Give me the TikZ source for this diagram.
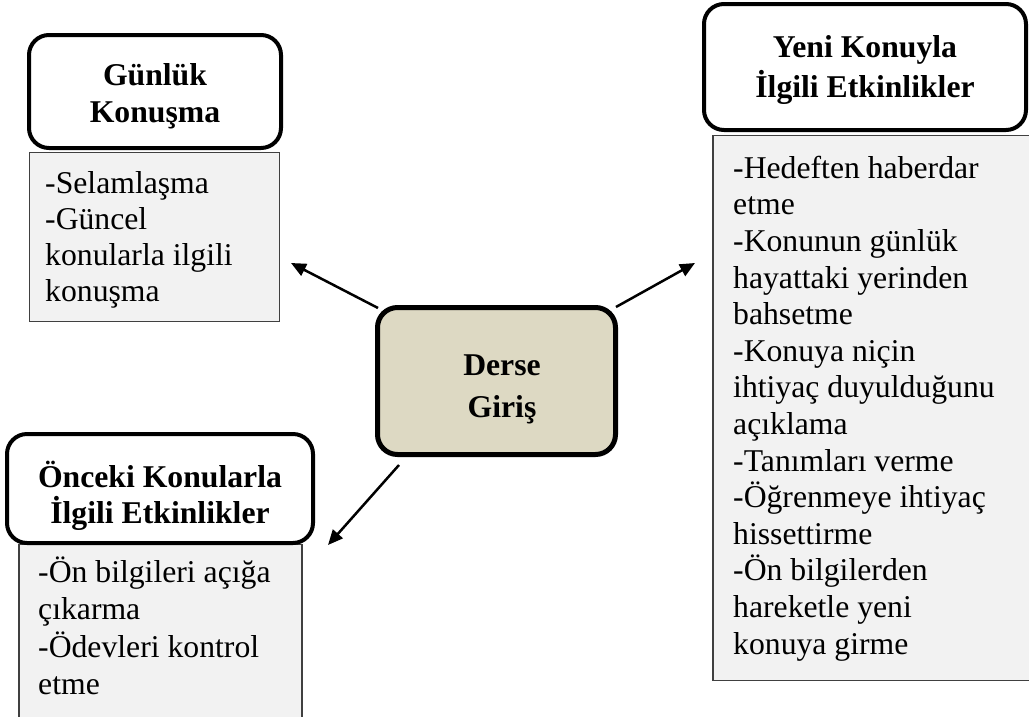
\documentclass[tikz,border=0pt]{standalone}
\usepackage{fontspec}
\setmainfont{Liberation Serif}
\usetikzlibrary{arrows.meta}
\definecolor{listfill}{HTML}{F2F2F2}
\definecolor{listline}{HTML}{404040}
\definecolor{hubfill}{HTML}{DDD9C3}
% font size with a chosen line spacing
\newcommand\fsk[1]{\fontsize{31.7}{#1}\selectfont}
% fixed first-line height so the first baseline sits at a known place
\newcommand\firststrut{\rule{0pt}{30pt}}
\begin{document}
\begin{tikzpicture}[x=1pt,y=-1pt,
  titlebox/.style={draw=black, line width=4pt, rounded corners=20pt, fill=white, inner sep=0pt},
  listbox/.style={draw=listline, line width=1.3pt, fill=listfill, inner sep=0pt},
  hubbox/.style={draw=black, line width=5pt, rounded corners=20pt, fill=hubfill, inner sep=0pt},
  titletext/.style={inner sep=0pt, anchor=north, align=flush center},
  listtext/.style={inner sep=0pt, anchor=north west, align=flush left},
  link/.style={line width=2.5pt, -{Triangle[length=15pt,width=13pt]}}
]
\useasboundingbox (0,0) rectangle (1029,716);
\clip (0,0) rectangle (1029,716);

% content panels (drawn first, the title boxes overlap their top edges)
\node[listbox, minimum width=250pt, minimum height=169pt] (gkbody) at (154.5,237) {};
\node[listbox, minimum width=327pt, minimum height=545pt] (ykbody) at (876.5,408) {};
\node[listbox, minimum width=283pt, minimum height=215pt] (okbody) at (160.5,652) {};

% title boxes
\node[titlebox, minimum width=252pt, minimum height=113pt] (gk) at (155,91.5) {};
\node[titlebox, minimum width=322pt, minimum height=126pt] (yk) at (865,67) {};
\node[titlebox, minimum width=306pt, minimum height=109pt] (ok) at (160,488.5) {};

% central box
\node[hubbox, minimum width=238pt, minimum height=147pt] (dg) at (496.5,381) {};

% titles
\node[titletext, text width=240pt, font=\bfseries\fsk{37}] (gktitle) at (155,55)
  {\firststrut Günlük\\Konuşma};
\node[titletext, text width=310pt, font=\bfseries\fsk{40}] (yktitle) at (865,27)
  {\firststrut Yeni Konuyla\\İlgili Etkinlikler};
\node[titletext, text width=300pt, font=\bfseries\fsk{36}] (oktitle) at (160,457)
  {\firststrut Önceki Konularla\\İlgili Etkinlikler};
\node[titletext, text width=200pt, font=\bfseries\fsk{42}] (dgtitle) at (502,345)
  {\firststrut Derse\\Giriş};

% lists
\node[listtext, text width=230pt, font=\fsk{36}] (gklist) at (45,163)
  {\firststrut -Selamlaşma\\-Güncel\\konularla ilgili\\konuşma};
\node[listtext, text width=290pt, font=\fsk{36.6}] (yklist) at (733,148)
  {\firststrut -Hedeften haberdar\\etme\\-Konunun günlük\\hayattaki yerinden\\bahsetme\\-Konuya niçin\\ihtiyaç duyulduğunu\\açıklama\\-Tanımları verme\\-Öğrenmeye ihtiyaç\\hissettirme\\-Ön bilgilerden\\hareketle yeni\\konuya girme};
\node[listtext, text width=262pt, font=\fsk{37.5}] (oklist) at (38,552)
  {\firststrut -Ön bilgileri açığa\\çıkarma\\-Ödevleri kontrol\\etme};

% arrow tips
\coordinate (gktip) at (291,263);
\coordinate (yktip) at (695,263);
\coordinate (oktip) at (328,545);

\draw[link] ([shift={(3,3)}]dg.north west) -- (gktip);
\draw[link] ([shift={(-2,2)}]dg.north east) -- (yktip);
\draw[link] ([shift={(24,8)}]dg.south west) -- (oktip);
\end{tikzpicture}
\end{document}
